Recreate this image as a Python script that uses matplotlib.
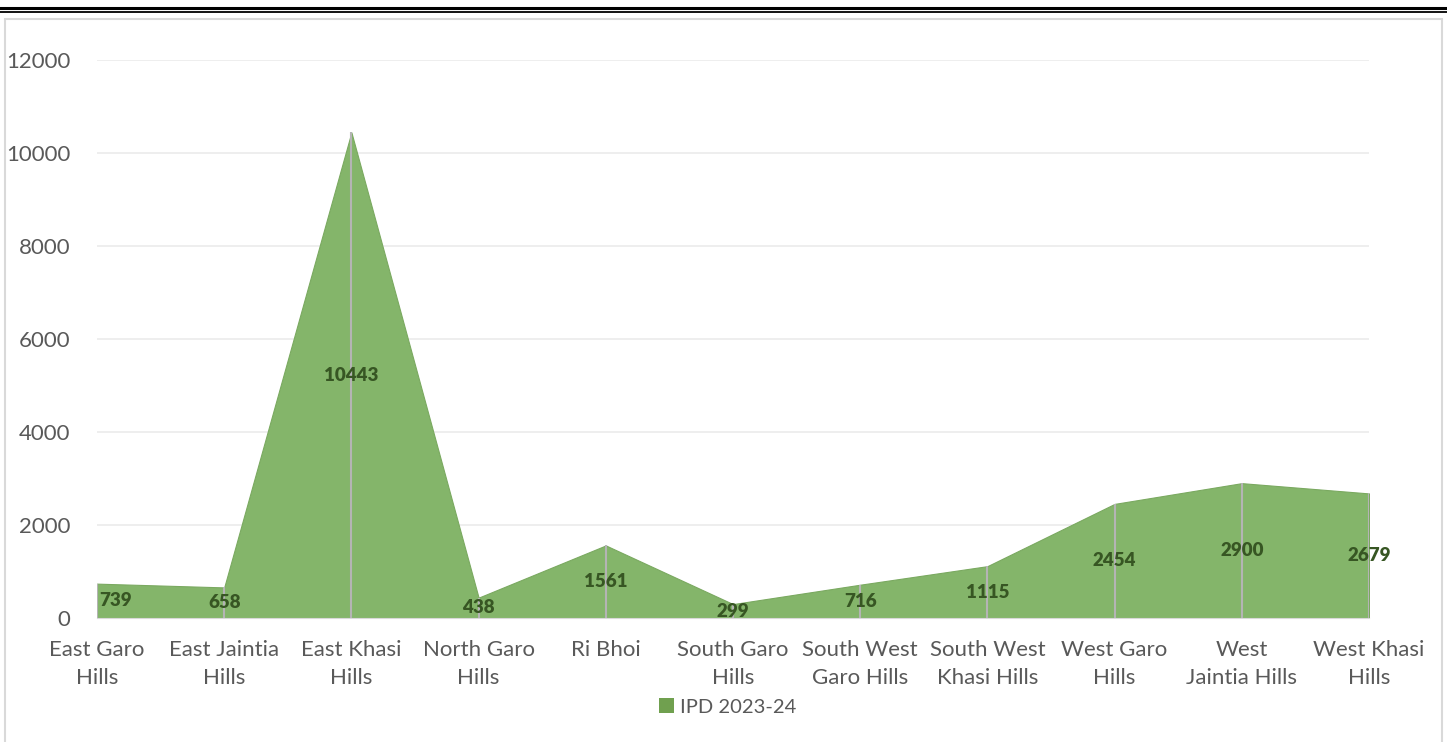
"""IPD 2023-24 by district, Excel-style area chart."""
import matplotlib
matplotlib.use("Agg")
import matplotlib.pyplot as plt
from matplotlib.lines import Line2D
from matplotlib.patches import Rectangle, Patch

districts = [
    "East Garo\nHills", "East Jaintia\nHills", "East Khasi\nHills",
    "North Garo\nHills", "Ri Bhoi", "South Garo\nHills",
    "South West\nGaro Hills", "South West\nKhasi Hills", "West Garo\nHills",
    "West\nJaintia Hills", "West Khasi\nHills",
]
ipd = [739, 658, 10443, 438, 1561, 299, 716, 1115, 2454, 2900, 2679]
series_name = "IPD 2023-24"
y_ticks = [0, 2000, 4000, 6000, 8000, 10000, 12000]

FILL = "#84b56a"
LABEL_GREEN = "#375623"
TEXT_GREY = "#595959"

plt.rcParams["font.family"] = ["Lato", "DejaVu Sans"]

W, H = 1447, 742
fig = plt.figure(figsize=(W / 100, H / 100), dpi=100)

# chart frame + double rule at top
fig.patches.append(Rectangle((5 / W, -0.05), (1442 - 5) / W, 1 - 19 / H + 0.05,
                             transform=fig.transFigure, fill=False,
                             edgecolor="#d9d9d9", linewidth=1.5))
fig.lines.append(Line2D([0, 1], [1 - 8.3 / H] * 2, transform=fig.transFigure,
                        color="black", linewidth=2.2))
fig.lines.append(Line2D([0, 1], [1 - 11.5 / H] * 2, transform=fig.transFigure,
                        color="black", linewidth=1.3))

ax = fig.add_axes([97 / W, (H - 618) / H, (1369 - 97) / W, 558 / H])
x = list(range(len(districts)))

ax.fill_between(x, ipd, 0, color=FILL, linewidth=0.8, edgecolor="#7aa960", zorder=2)
ax.vlines(x, 0, ipd, color="#b4b4b4", linewidth=1.5, zorder=3)
for xi, v in zip(x, ipd):
    # Excel nudges the first label inside the plot area
    ax.text(xi + (0.02 if xi == 0 else 0), v / 2, str(v),
            ha="left" if xi == 0 else "center", va="center", fontsize=13.5,
            fontweight="heavy", color=LABEL_GREEN, zorder=4)

ax.set_xlim(0, len(districts) - 1)
ax.set_ylim(0, 12000)
ax.set_yticks(y_ticks)
ax.set_xticks(x)
ax.set_xticklabels(districts, linespacing=1.5)
ax.tick_params(axis="x", length=0, pad=16, labelsize=16, labelcolor=TEXT_GREY)
ax.tick_params(axis="y", length=0, pad=19, labelsize=16, labelcolor=TEXT_GREY)
ax.grid(axis="y", color="#ebebeb", linewidth=1.2, zorder=0)
ax.set_axisbelow(True)
for side in ["top", "right", "left"]:
    ax.spines[side].set_visible(False)
ax.spines["bottom"].set_color("#d9d9d9")

handle = Patch(facecolor="#70a04f", edgecolor="none")
fig.legend([handle], [series_name], loc="center", bbox_to_anchor=(728 / W, 1 - 707 / H),
           frameon=False, fontsize=14.5, labelcolor=TEXT_GREY, handlelength=0.75,
           handleheight=0.75, handletextpad=0.3)

fig.savefig("out.png", dpi=100)
